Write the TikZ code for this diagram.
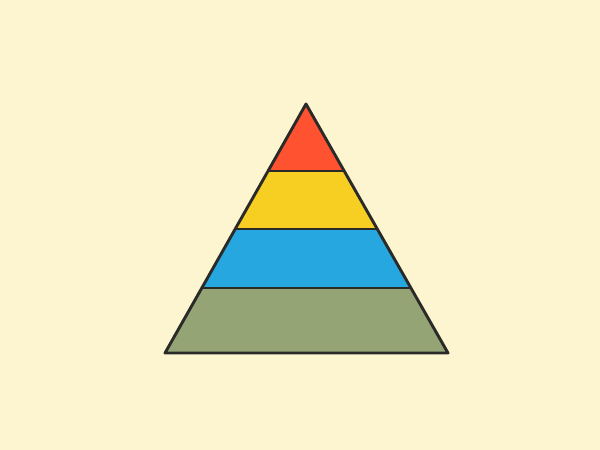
\documentclass[tikz,border=0pt]{standalone}
\usetikzlibrary{calc}
\definecolor{paper}{HTML}{FDF5D0}
\definecolor{ink}{HTML}{2A2A28}
\definecolor{tierred}{HTML}{FE5230}
\definecolor{tieryellow}{HTML}{F6CF22}
\definecolor{tierblue}{HTML}{26A7DF}
\definecolor{tiergreen}{HTML}{95A474}
\begin{document}
\begin{tikzpicture}[x=1pt, y=-1pt,
  tier/.style={draw=ink, line width=2.7pt, line join=round},
  edge/.style={draw=ink, line width=2.9pt, line join=round, line cap=round}]
\fill[paper] (0,0) rectangle (600,450);
\useasboundingbox (0,0) rectangle (600,450);
\coordinate (apex) at (306,104);
\coordinate (bl) at (165,353);
\coordinate (br) at (448,353);
% cut points along the two sides
\coordinate (l1) at ($(apex)!0.269!(bl)$);
\coordinate (r1) at ($(apex)!0.269!(br)$);
\coordinate (l2) at ($(apex)!0.502!(bl)$);
\coordinate (r2) at ($(apex)!0.502!(br)$);
\coordinate (l3) at ($(apex)!0.739!(bl)$);
\coordinate (r3) at ($(apex)!0.739!(br)$);
\fill[tierred] (apex) -- (r1) -- (l1) -- cycle;
\fill[tieryellow] (l1) -- (r1) -- (r2) -- (l2) -- cycle;
\fill[tierblue] (l2) -- (r2) -- (r3) -- (l3) -- cycle;
\fill[tiergreen] (l3) -- (r3) -- (br) -- (bl) -- cycle;
\draw[tier] (l1) -- (r1);
\draw[tier] (l2) -- (r2);
\draw[tier] (l3) -- (r3);
\draw[edge] (apex) -- (br) -- (bl) -- cycle;
\end{tikzpicture}
\end{document}
